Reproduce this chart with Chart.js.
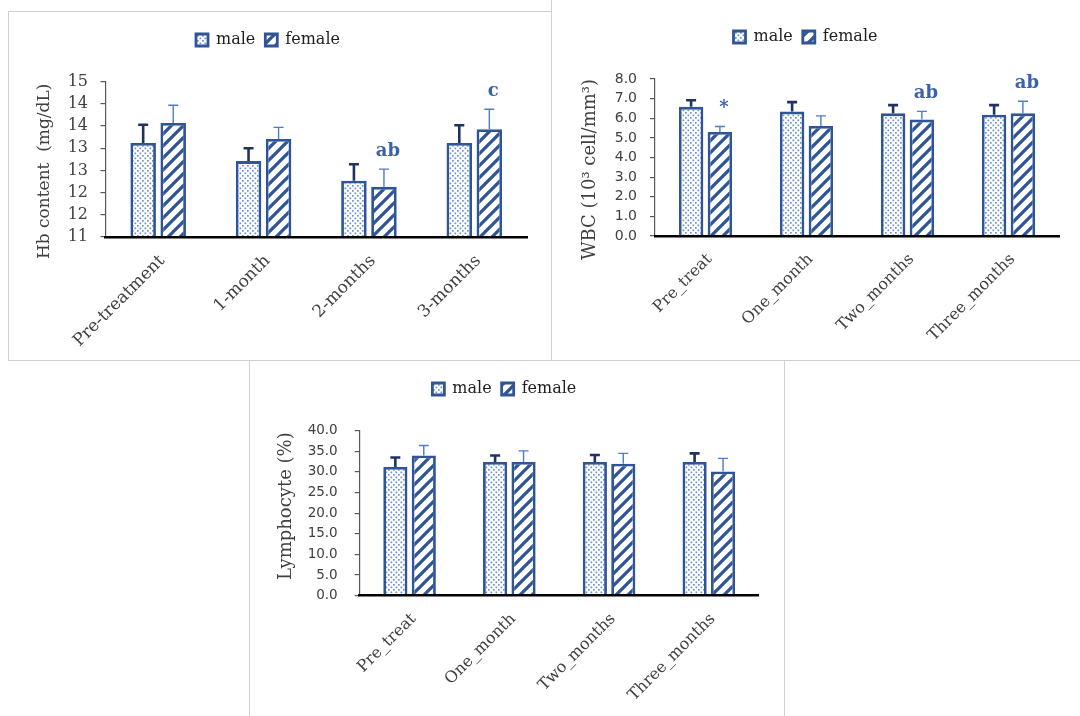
<!DOCTYPE html>
<html>
<head>
<meta charset="utf-8">
<script src="https://cdn.jsdelivr.net/npm/chart.js@4.4.1/dist/chart.umd.min.js"></script>
<style>
  html, body { margin: 0; padding: 0; background: #fff; width: 1080px; height: 716px; overflow: hidden; }
  .panel { position: absolute; box-sizing: border-box; border: 1px solid #d0d0d0; background: #fff; overflow: hidden; }
  .panel canvas { position: absolute; left: 0; top: 0; }
</style>
</head>
<body>
<div class="panel" style="left:8px; top:11px; width:544px; height:350px;">
  <canvas id="hbChart" width="542" height="348" style="width:542px;height:348px;"></canvas>
</div>
<div class="panel" style="left:551px; top:-2px; width:531px; height:363px;">
  <canvas id="wbcChart" width="527" height="361" style="width:527px;height:361px;"></canvas>
</div>
<div class="panel" style="left:249px; top:360px; width:536px; height:360px;">
  <canvas id="lymChart" width="534" height="355" style="width:534px;height:355px;"></canvas>
</div>
<script>
// ---- Haemoglobin ----
const hbCategories = ['Pre-treatment', '1-month', '2-months', '3-months'];
const hbMale = [13.12, 12.71, 12.27, 13.12];
const hbMaleSD = [0.41, 0.29, 0.37, 0.40];
const hbFemale = [13.57, 13.21, 12.13, 13.43];
const hbFemaleSD = [0.40, 0.26, 0.40, 0.45];
const hbFemaleMarks = ['', '', 'ab', 'c'];
const hbTickLabels = ['11', '12', '12', '13', '13', '14', '14', '15'];

// ---- White blood cells ----
const timeCategories = ['Pre_treat', 'One_month', 'Two_months', 'Three_months'];
const wbcMale = [6.58, 6.34, 6.25, 6.18];
const wbcMaleSD = [0.34, 0.48, 0.42, 0.49];
const wbcFemale = [5.30, 5.61, 5.93, 6.25];
const wbcFemaleSD = [0.28, 0.51, 0.42, 0.62];
const wbcFemaleMarks = ['*', '', 'ab', 'ab'];
const wbcTickLabels = ['0.0', '1.0', '2.0', '3.0', '4.0', '5.0', '6.0', '7.0', '8.0'];

// ---- Lymphocytes ----
const lymMale = [31.2, 32.4, 32.4, 32.4];
const lymMaleSD = [2.3, 1.6, 1.7, 2.1];
const lymFemale = [34.0, 32.4, 32.0, 30.1];
const lymFemaleSD = [2.4, 2.7, 2.5, 3.2];
const lymTickLabels = ['0.0', '5.0', '10.0', '15.0', '20.0', '25.0', '30.0', '35.0', '40.0'];

const SERIF = "'DejaVu Serif', 'Liberation Serif', serif";
const SANS = "'DejaVu Sans', 'Liberation Sans', sans-serif";
const BAR_EDGE = '#2f5597';
const TEXT = '#404040';

function dotFill(ctx) {
  const t = document.createElement('canvas');
  t.width = 5; t.height = 5;
  const g = t.getContext('2d');
  g.fillStyle = '#ffffff'; g.fillRect(0, 0, 5, 5);
  g.fillStyle = '#6890d4';
  g.fillRect(0.5, 0.5, 1.7, 1.7);
  g.fillRect(3, 3, 1.7, 1.7);
  return ctx.createPattern(t, 'repeat');
}

function hatchFill(ctx) {
  const s = 12;
  const t = document.createElement('canvas');
  t.width = s; t.height = s;
  const g = t.getContext('2d');
  g.fillStyle = '#ffffff'; g.fillRect(0, 0, s, s);
  g.strokeStyle = BAR_EDGE; g.lineWidth = 3.3;
  g.beginPath();
  g.moveTo(-2, s + 2); g.lineTo(s + 2, -2);
  g.moveTo(-2, 2); g.lineTo(2, -2);
  g.moveTo(s - 2, s + 2); g.lineTo(s + 2, s - 2);
  g.stroke();
  return ctx.createPattern(t, 'repeat');
}

// standard-deviation whiskers (upper half) and significance letters
const errorBars = {
  id: 'errorBars',
  afterDatasetsDraw(chart) {
    const ctx = chart.ctx;
    const yScale = chart.scales.y;
    chart.data.datasets.forEach((ds, di) => {
      const meta = chart.getDatasetMeta(di);
      meta.data.forEach((bar, i) => {
        const top = yScale.getPixelForValue(ds.data[i] + ds.sd[i]);
        ctx.save();
        ctx.strokeStyle = ds.errColor;
        ctx.lineWidth = ds.errWidth;
        ctx.beginPath();
        ctx.moveTo(bar.x, bar.y);
        ctx.lineTo(bar.x, top);
        ctx.moveTo(bar.x - 5, top);
        ctx.lineTo(bar.x + 5, top);
        ctx.stroke();
        const mark = ds.marks ? ds.marks[i] : '';
        if (mark) {
          ctx.fillStyle = '#3b62ad';
          ctx.font = 'bold 18px ' + SERIF;
          ctx.textAlign = 'center';
          ctx.textBaseline = 'alphabetic';
          ctx.fillText(mark, bar.x + 4, top - 13);
        }
        ctx.restore();
      });
    });
  }
};

// rotated y-axis caption, centred a little off the plot middle
const axisCaption = {
  id: 'axisCaption',
  afterDraw(chart, args, opts) {
    const { ctx, chartArea } = chart;
    ctx.save();
    ctx.translate(opts.x, (chartArea.top + chartArea.bottom) / 2 + opts.shift);
    ctx.rotate(-Math.PI / 2);
    ctx.fillStyle = TEXT;
    ctx.font = opts.size + 'px ' + SERIF;
    ctx.textAlign = 'center';
    ctx.textBaseline = 'middle';
    ctx.fillText(opts.text, 0, 0);
    ctx.restore();
  }
};

function buildChart(id, o) {
  const canvas = document.getElementById(id);
  const ctx = canvas.getContext('2d');
  return new Chart(canvas, {
    type: 'bar',
    data: {
      labels: o.labels,
      datasets: [
        {
          label: 'male', data: o.male, sd: o.maleSD, marks: null,
          backgroundColor: dotFill(ctx), borderColor: BAR_EDGE, borderWidth: 2.8,
          errColor: '#1f3360', errWidth: 2.6,
          categoryPercentage: 0.57, barPercentage: 0.85
        },
        {
          label: 'female', data: o.female, sd: o.femaleSD, marks: o.marks,
          backgroundColor: hatchFill(ctx), borderColor: BAR_EDGE, borderWidth: 2.8,
          errColor: '#4f7bc8', errWidth: 1.4,
          categoryPercentage: 0.57, barPercentage: 0.85
        }
      ]
    },
    options: {
      responsive: false,
      animation: false,
      events: [],
      layout: { padding: { top: o.padTop, right: o.padRight, bottom: 0, left: 0 } },
      plugins: {
        tooltip: { enabled: false },
        legend: {
          display: true,
          position: 'top',
          align: 'center',
          labels: { boxWidth: 12, boxHeight: 12, padding: 10, color: '#1f1f1f', font: { family: SERIF, size: 16 } }
        },
        // blank spacer between the legend and the plot
        title: {
          display: true, text: ' ', position: 'top', weight: 500,
          font: { size: 1, lineHeight: 1 }, padding: { top: o.gap, bottom: 0 }
        },
        axisCaption: { text: o.yTitle, x: o.titleX, shift: o.titleShift, size: o.titleSize }
      },
      scales: {
        x: {
          ticks: {
            color: TEXT, font: { family: SERIF, size: o.xFont },
            minRotation: 45, maxRotation: 45, autoSkip: false, padding: 14, labelOffset: 4
          },
          grid: { display: false, drawTicks: false },
          border: { display: true, color: '#000000', width: 2.6, z: 1 },
          afterFit(s) { s.height = o.xHeight; s.paddingLeft = 0; s.paddingRight = 0; }
        },
        y: {
          min: o.min, max: o.max,
          ticks: {
            stepSize: o.step, padding: o.tickPad, color: TEXT, font: o.tickFont, autoSkip: false,
            callback: (v, i) => o.tickLabels[i]
          },
          grid: { display: true, drawOnChartArea: false, drawTicks: true, tickLength: 5, color: '#595959', lineWidth: 1.2 },
          border: { display: true, color: '#595959', width: 1.2 },
          afterFit(s) { s.width = o.yWidth; }
        }
      }
    },
    plugins: [errorBars, axisCaption]
  });
}

buildChart('hbChart', {
  labels: hbCategories, male: hbMale, maleSD: hbMaleSD, female: hbFemale, femaleSD: hbFemaleSD,
  marks: hbFemaleMarks, tickLabels: hbTickLabels, min: 11, max: 14.5, step: 0.5,
  yTitle: 'Hb content  (mg/dL)', titleX: 36, titleShift: 12, titleSize: 17,
  tickFont: { family: SERIF, size: 16 }, xFont: 17,
  padTop: 10, gap: 22.7, padRight: 24, xHeight: 123, yWidth: 96.5, tickPad: 12.5
});

buildChart('wbcChart', {
  labels: timeCategories, male: wbcMale, maleSD: wbcMaleSD, female: wbcFemale, femaleSD: wbcFemaleSD,
  marks: wbcFemaleMarks, tickLabels: wbcTickLabels, min: 0, max: 8, step: 1,
  yTitle: 'WBC (10³ cell/mm³)', titleX: 38, titleShift: 12, titleSize: 18,
  tickFont: { family: SANS, size: 14 }, xFont: 16,
  padTop: 20, gap: 23, padRight: 20, xHeight: 124, yWidth: 103, tickPad: 13
});

buildChart('lymChart', {
  labels: timeCategories, male: lymMale, maleSD: lymMaleSD, female: lymFemale, femaleSD: lymFemaleSD,
  marks: null, tickLabels: lymTickLabels, min: 0, max: 40, step: 5,
  yTitle: 'Lymphocyte (%)', titleX: 36, titleShift: -7, titleSize: 18,
  tickFont: { family: SANS, size: 13.5 }, xFont: 16,
  padTop: 10, gap: 22.7, padRight: 25.3, xHeight: 120.3, yWidth: 109.7, tickPad: 17
});
</script>
</body>
</html>
